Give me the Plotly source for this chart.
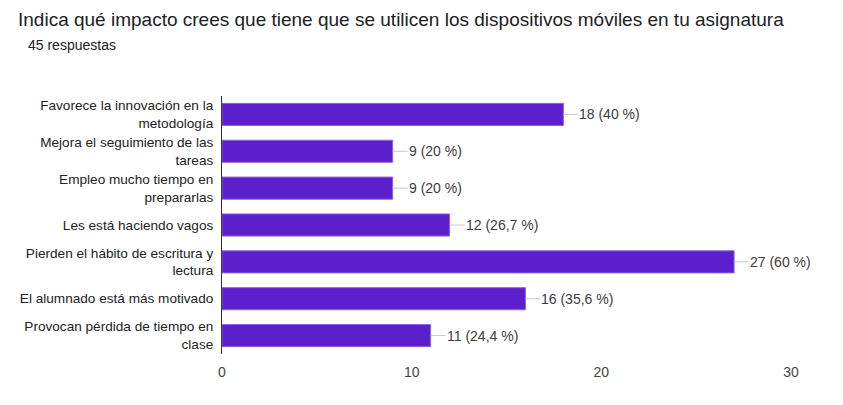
import plotly.graph_objects as go

# respuestas del formulario (45 en total)
categorias = [
    "Favorece la innovación en la<br>metodología",
    "Mejora el seguimiento de las<br>tareas",
    "Empleo mucho tiempo en<br>prepararlas",
    "Les está haciendo vagos",
    "Pierden el hábito de escritura y<br>lectura",
    "El alumnado está más motivado",
    "Provocan pérdida de tiempo en<br>clase",
]
respuestas = [18, 9, 9, 12, 27, 16, 11]
porcentajes = ["40 %", "20 %", "20 %", "26,7 %", "60 %", "35,6 %", "24,4 %"]
ticks_x = [0, 10, 20, 30]

FONT = "Liberation Sans, Arial, sans-serif"
W, H = 843, 405
L, T, R, B = 208, 88, 60, 59
PW, PH = W - L - R, H - T - B

fig = go.Figure(go.Bar(
    x=respuestas,
    y=categorias,
    orientation="h",
    width=0.6,
    marker=dict(color="#5b1fcb", line=dict(color="#8f63e3", width=1)),
    hoverinfo="skip",
))

# etiquetas de valor con su linea gris
for v, c, p in zip(respuestas, categorias, porcentajes):
    fig.add_annotation(
        x=v, y=c, xref="x", yref="y",
        text=f"{v} ({p})",
        showarrow=True, arrowhead=0, arrowwidth=1, arrowcolor="#c8c8c8",
        ax=15, ay=0, xanchor="left", standoff=0, borderpad=0,
        font=dict(family=FONT, size=14, color="#3c3c3c"),
    )

fig.add_annotation(
    text="45 respuestas", xref="paper", yref="paper",
    x=-(L - 10) / PW, y=1 + (T - 37) / PH, xanchor="left", yanchor="middle",
    showarrow=False, font=dict(family=FONT, size=14, color="#202124"),
)

fig.update_layout(
    width=W, height=H,
    margin=dict(l=L, r=R, t=T, b=B),
    paper_bgcolor="white", plot_bgcolor="white",
    showlegend=False,
    title=dict(
        text="Indica qué impacto crees que tiene que se utilicen los dispositivos móviles en tu asignatura",
        x=10 / W, xanchor="left", y=1 - 11 / H, yanchor="middle",
        font=dict(family=FONT, size=19, color="#202124"),
    ),
    xaxis=dict(
        range=[0, 30], tickvals=ticks_x, showgrid=False, zeroline=False,
        showline=False, ticks="", ticklabelstandoff=8,
        tickfont=dict(family=FONT, size=14, color="#444444"),
    ),
    yaxis=dict(
        autorange="reversed", showgrid=False, zeroline=False,
        showline=True, linecolor="#333333", linewidth=1, ticks="",
        ticklabelstandoff=5,
        tickfont=dict(family=FONT, size=13.6, color="#222222"),
    ),
)

fig.write_html("out.html")
